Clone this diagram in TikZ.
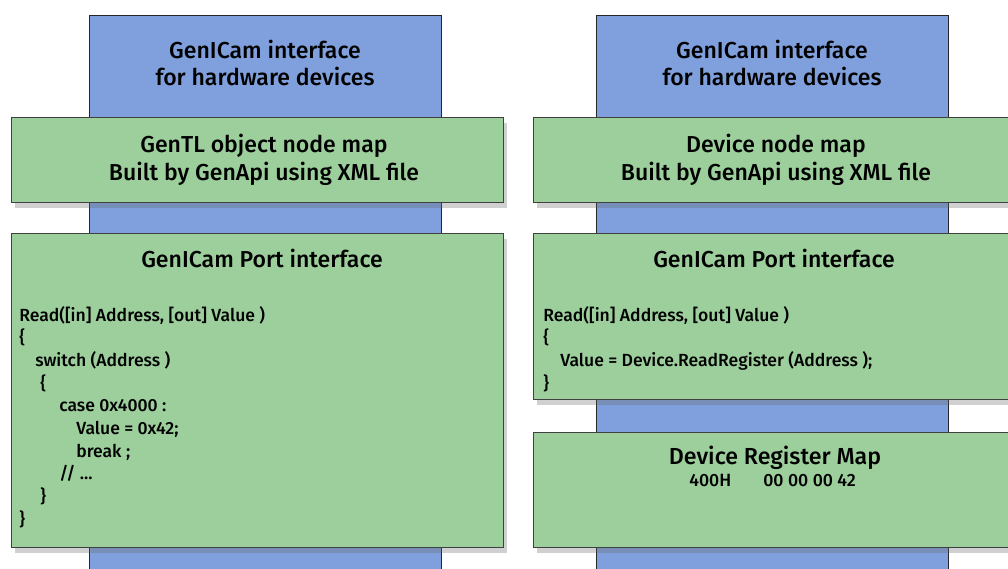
\documentclass[tikz,border=0pt]{standalone}
\usepackage{fontspec}
\setmainfont{Fira Sans}[UprightFont=* Medium]
\usepackage{xcolor}
\usetikzlibrary{positioning,shadows}

\definecolor{barblue}{HTML}{7FA0DC}
\definecolor{mapgreen}{HTML}{9CCF9C}

\tikzset{
  bar/.style 2 args={draw=black!85, line width=0.8pt, fill=barblue, anchor=north west,
    inner sep=0pt, minimum width=#1*0.025cm, minimum height=#2*0.025cm},
  mapbox/.style 2 args={draw=black!75, line width=0.8pt, fill=mapgreen, anchor=north west,
    inner sep=0pt, minimum width=#1*0.025cm, minimum height=#2*0.025cm,
    drop shadow={shadow xshift=2.5pt, shadow yshift=-4pt, opacity=0.3, fill=black!60}},
  headtext/.style={align=center, font=\fontsize{16.4}{19.5}\selectfont},
  codetext/.style={align=left, inner sep=0pt, anchor=north west, font=\fontsize{12.5}{16.1}\selectfont},
}

\begin{document}
\begin{tikzpicture}[x=0.025cm, y=-0.025cm]
    \clip (0,0) rectangle (1008,569);
    \fill[white] (0,0) rectangle (1008,569);

    % blue interface columns
    \node[bar={352}{580}] (barl) at (89,15) {};
    \node[bar={352}{580}] (barr) at (596,15) {};
    \node[headtext] (hwl) at (265,63) {GenICam interface\\for hardware devices};
    \node[headtext] (hwr) at (772,63) {GenICam interface\\for hardware devices};

    % node maps
    \node[mapbox={492}{85}] (mapl) at (11,117) {};
    \node[mapbox={482}{85}] (mapr) at (533,117) {};
    \node[headtext] (mapltxt) at (264,160) {GenTL object node map\\Built by GenApi using XML file};
    \node[headtext] (maprtxt) at (776,160) {Device node map\\Built by GenApi using XML file};

    % port interfaces
    \node[mapbox={492}{314}] (portl) at (11,233) {};
    \node[mapbox={482}{166}] (portr) at (533,233) {};
    \node[headtext, anchor=base] (portltitle) at (262,268) {GenICam Port interface};
    \node[headtext, anchor=base] (portrtitle) at (774,268) {GenICam Port interface};

    \node[codetext] (codel) at (19,306) {Read([in] Address, [out] Value )\\
      \{\\
      \hspace*{0.4cm}switch (Address )\\
      \hspace*{0.525cm}\{\\
      \hspace*{1cm}case 0x4000 :\\
      \hspace*{1.425cm}Value = 0x42;\\
      \hspace*{1.425cm}break ;\\
      \hspace*{1cm}// ...\\
      \hspace*{0.525cm}\}\\
      \}};
    \node[codetext] (coder) at (543,306) {Read([in] Address, [out] Value )\\
      \{\\
      \hspace*{0.425cm}Value = Device.ReadRegister (Address );\\
      \}};

    % register map
    \node[mapbox={482}{115}] (regmap) at (533,432) {};
    \node[anchor=base, font=\fontsize{16.5}{20}\selectfont] (regtitle) at (775,465) {Device Register Map};
    \node[anchor=base west, inner sep=0pt, font=\fontsize{12.6}{15}\selectfont] (regaddr) at (689,487) {400H};
    \node[anchor=base west, inner sep=0pt, font=\fontsize{12.6}{15}\selectfont] (regval) at (763,487) {00 00 00 42};
\end{tikzpicture}
\end{document}
